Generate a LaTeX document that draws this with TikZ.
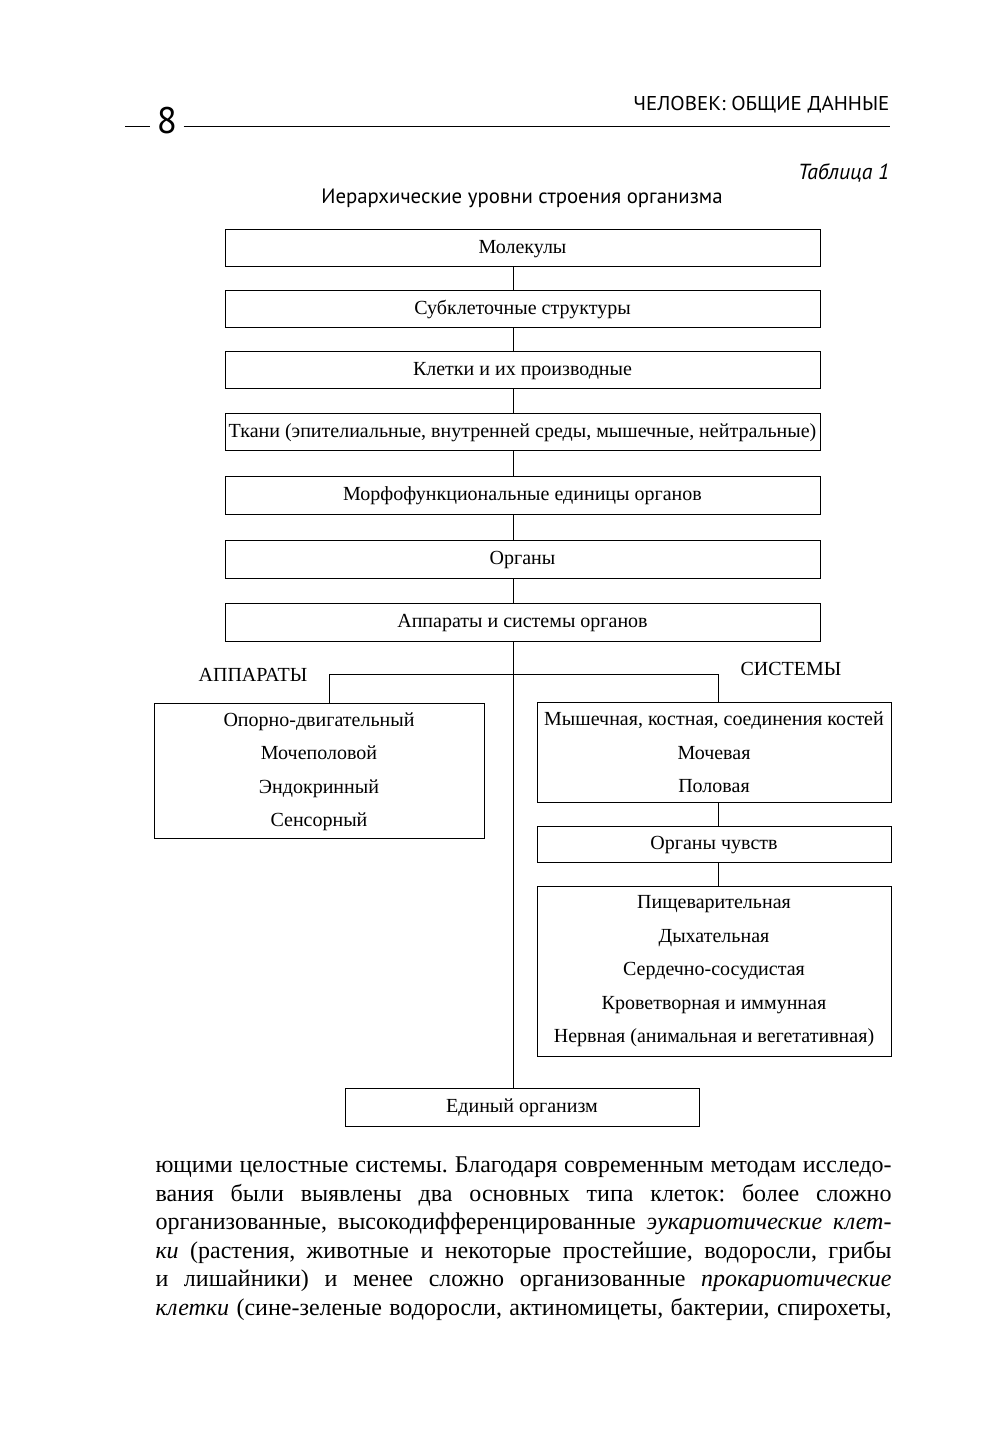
\documentclass[tikz,border=0pt]{standalone}
\usepackage{fontspec}
\setmainfont{Liberation Serif}
\newfontfamily\bodyserif{Liberation Serif}
\newfontfamily\sansf{PT Sans}
\newfontfamily\sanswide{PT Sans}[FakeStretch=1.05]
\newcommand\boxfont{\fontsize{10}{12}\selectfont}
\newcommand\bodyfont{\bodyserif\fontsize{12}{14}\selectfont\frenchspacing}
\newcommand\hdrfont{\sanswide\fontsize{10}{12}\selectfont}
\newcommand\pgfont{\sansf\fontsize{18.5}{20}\selectfont}
\newcommand\tabfont{\sansf\itshape\fontsize{10.9}{12}\selectfont}
\newcommand\ttlfont{\sansf\fontsize{10.4}{12}\selectfont}
\newcommand\bline[1]{\makebox[368pt][s]{#1}}
\begin{document}
\begin{tikzpicture}[x=0.5pt,y=-0.5pt,line width=0.5pt,
  lvl/.style={draw, inner sep=0pt, minimum width=297.5pt, minimum height=18.5pt, font=\boxfont, text height=7pt, text depth=2pt},
  sbox/.style={draw, inner sep=0pt, minimum width=177pt, font=\boxfont, text height=7pt, text depth=2pt},
  itm/.style={inner sep=0pt, font=\boxfont, text height=7pt, text depth=2pt},
  bodyln/.style={inner sep=0pt, anchor=base west, font=\bodyfont},
  conn/.style={line width=0.5pt}]
\useasboundingbox (0,0) rectangle (987,1447);
% header
\node[anchor=base east, inner sep=0pt, font=\hdrfont] (hdr) at (890,110) {ЧЕЛОВЕК: ОБЩИЕ ДАННЫЕ};
\node[inner ysep=0pt, inner xsep=3pt, font=\pgfont] (pg) at (167,121) {8};
\coordinate (rl) at (125,126);
\coordinate (rr) at (890,126);
\draw[conn] (rl) -- (pg.west |- rl);
\draw[conn] (pg.east |- rr) -- (rr);
\node[anchor=base east, inner sep=0pt, font=\tabfont] (tab) at (890,179) {Таблица 1};
\node[anchor=base, inner sep=0pt, font=\ttlfont] (ttl) at (522,203) {Иерархические уровни строения организма};
% main column
\node[lvl] (b1) at (522.5,248) {Молекулы};
\node[lvl] (b2) at (522.5,309) {Субклеточные структуры};
\node[lvl] (b3) at (522.5,370) {Клетки и их производные};
\node[lvl] (b4) at (522.5,432) {Ткани (эпителиальные, внутренней среды, мышечные, нейтральные)};
\node[lvl, minimum height=19pt] (b5) at (522.5,495) {Морфофункциональные единицы органов};
\node[lvl, minimum height=19pt] (b6) at (522.5,559) {Органы};
\node[lvl, minimum height=19pt] (b7) at (522.5,622) {Аппараты и системы органов};
\coordinate (trunk) at (513,0);
\draw[conn] (b1.south -| trunk) -- (b2.north -| trunk);
\draw[conn] (b2.south -| trunk) -- (b3.north -| trunk);
\draw[conn] (b3.south -| trunk) -- (b4.north -| trunk);
\draw[conn] (b4.south -| trunk) -- (b5.north -| trunk);
\draw[conn] (b5.south -| trunk) -- (b6.north -| trunk);
\draw[conn] (b6.south -| trunk) -- (b7.north -| trunk);
% branches
\node[itm] (lapp) at (253,676) {АППАРАТЫ};
\node[itm] (lsys) at (791,670) {СИСТЕМЫ};
\node[draw, inner sep=0pt, minimum width=165pt, minimum height=67.5pt] (app) at (319,770.5) {};
\node[itm] (a1) at (319,721) {Опорно-двигательный};
\node[itm] (a2) at (319,754) {Мочеполовой};
\node[itm] (a3) at (319,788) {Эндокринный};
\node[itm] (a4) at (319,821) {Сенсорный};
\node[sbox, minimum height=50pt] (sA) at (714,752) {};
\node[itm] (s1) at (714,720) {Мышечная, костная, соединения костей};
\node[itm] (s2) at (714,754) {Мочевая};
\node[itm] (s3) at (714,787) {Половая};
\node[sbox, minimum height=18pt] (sB) at (714,844) {Органы чувств};
\node[sbox, minimum height=85pt] (sC) at (714,971) {};
\node[itm] (c1) at (714,903) {Пищеварительная};
\node[itm] (c2) at (714,937) {Дыхательная};
\node[itm] (c3) at (714,970) {Сердечно-сосудистая};
\node[itm] (c4) at (714,1004) {Кроветворная и иммунная};
\node[itm] (c5) at (714,1037) {Нервная (анимальная и вегетативная)};
\node[sbox, minimum height=19pt] (org) at (522,1107) {Единый организм};
\coordinate (lx) at (329,674);
\coordinate (rx) at (718,674);
\draw[conn] (b7.south -| trunk) -- (org.north -| trunk);
\draw[conn] (app.north -| lx) -- (lx) -- (rx) -- (sA.north -| rx);
\draw[conn] (sA.south -| rx) -- (sB.north -| rx);
\draw[conn] (sB.south -| rx) -- (sC.north -| rx);
% body text
\node[bodyln] (t1) at (155,1172) {\bline{ющими целостные системы. Благодаря современным методам исследо-}};
\node[bodyln] (t2) at (155,1201) {\bline{вания были выявлены два основных типа клеток: более сложно}};
\node[bodyln] (t3) at (155,1229) {\bline{организованные, высокодифференцированные \textit{эукариотические клет-}}};
\node[bodyln] (t4) at (155,1258) {\bline{\textit{ки} (растения, животные и некоторые простейшие, водоросли, грибы}};
\node[bodyln] (t5) at (155,1286) {\bline{и лишайники) и менее сложно организованные \textit{прокариотические}}};
\node[bodyln] (t6) at (155,1315) {\bline{\textit{клетки} (сине-зеленые водоросли, актиномицеты, бактерии, спирохеты,}};
\end{tikzpicture}
\end{document}
